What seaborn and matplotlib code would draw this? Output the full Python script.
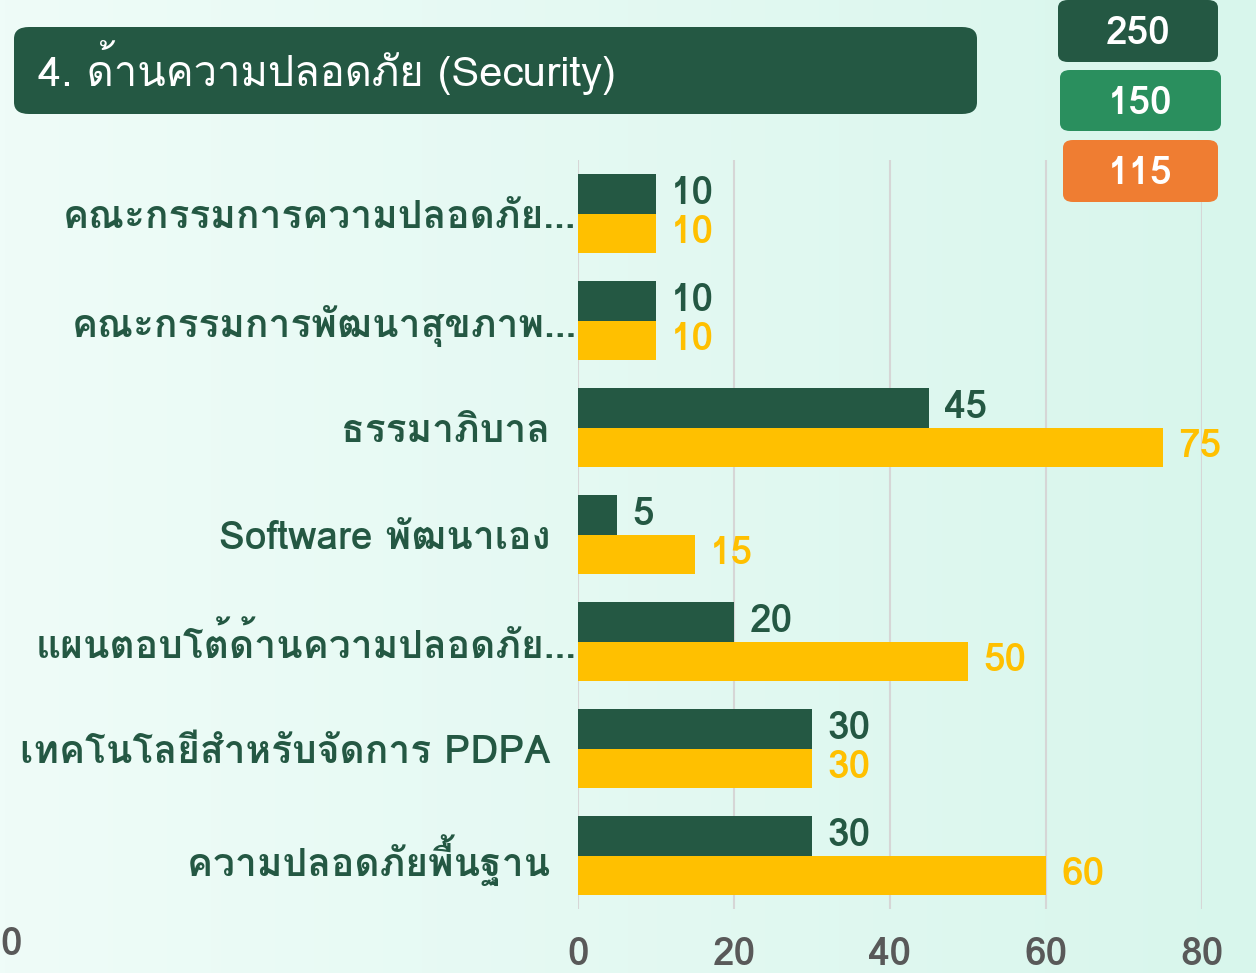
import numpy as np
import pandas as pd
import matplotlib
matplotlib.use('Agg')
import matplotlib.pyplot as plt
from matplotlib import font_manager
from matplotlib.patches import FancyBboxPatch
import seaborn as sns

# ==================== data ====================
categories = [
    'คณะกรรมการความปลอดภัย...',
    'คณะกรรมการพัฒนาสุขภาพ...',
    'ธรรมาภิบาล',
    'Software พัฒนาเอง',
    'แผนตอบโต้ด้านความปลอดภัย...',
    'เทคโนโลยีสำหรับจัดการ PDPA',
    'ความปลอดภัยพื้นฐาน',
]
series_names = ['ชุดที่ 1', 'ชุดที่ 2']
values_dark = [10, 10, 45, 5, 20, 30, 30]
values_yellow = [10, 10, 75, 15, 50, 30, 60]
x_ticks = [0, 20, 40, 60, 80]

title = '4. ด้านความปลอดภัย (Security)'
badge_values = ['250', '150', '115']

DARK = '#245843'
YELLOW = '#ffc000'
badge_colors = [DARK, '#2a8f5e', '#ef7d32']


# ==================== fonts ====================
def find_thai_fonts():
    """installed fonts carrying Thai glyphs -> {family: max weight}"""
    try:
        from fontTools.ttLib import TTFont
    except Exception:
        return {}
    found = {}
    for f in font_manager.fontManager.ttflist:
        try:
            cmap = TTFont(f.fname, fontNumber=0, lazy=True).getBestCmap()
            if cmap and 0x0E01 in cmap:
                w = f.weight if isinstance(f.weight, int) else 400
                found[f.name] = max(found.get(f.name, 0), w)
        except Exception:
            pass
    return found


sns.set_theme(style='white')
thai_fonts = find_thai_fonts()
thai = None
if thai_fonts:
    # prefer a family that also has a bold face
    thai = sorted(thai_fonts.items(), key=lambda kv: (kv[1] < 600, 'Noto' not in kv[0]))[0][0]
families = ([thai] if thai else []) + ['Noto Sans', 'DejaVu Sans']
plt.rcParams['font.family'] = families

df = pd.DataFrame({
    'category': categories * 2,
    'series': [series_names[0]] * len(categories) + [series_names[1]] * len(categories),
    'value': values_dark + values_yellow,
})

# ==================== figure ====================
fig = plt.figure(figsize=(12.56, 9.73), dpi=100)

# background gradient
bg = fig.add_axes([0, 0, 1, 1], zorder=-10)
grad = np.linspace(0, 1, 256).reshape(1, -1)
cmap_bg = matplotlib.colors.LinearSegmentedColormap.from_list('bg', ['#effcf8', '#d8f6ec'])
bg.imshow(grad, aspect='auto', cmap=cmap_bg, extent=[0, 1, 0, 1])
bg.set_xlim(0, 1)
bg.set_ylim(0, 1)
bg.axis('off')

ax = fig.add_axes([578 / 1256, 1 - 909 / 973, 624 / 1256, 749 / 973])
ax.set_facecolor('none')
sns.barplot(data=df, x='value', y='category', hue='series', orient='h',
            palette=[DARK, YELLOW], saturation=1, width=0.73, linewidth=0,
            legend=False, ax=ax)

ax.set_xlim(0, 80)
ax.set_xticks(x_ticks)
ax.set_xticklabels([str(t) for t in x_ticks], fontsize=28, fontweight='bold', color='#595959')
ax.tick_params(axis='x', length=0, pad=20)

labels = [c if c.endswith('...') else c + '  ' for c in categories]
ax.set_yticks(range(len(categories)))
ax.set_yticklabels(labels, fontsize=28, fontweight='bold', color=DARK)
ax.tick_params(axis='y', length=0, pad=1)

ax.set_xlabel('')
ax.set_ylabel('')
ax.grid(axis='x', color='#d6d6d6', linewidth=1.5)
ax.grid(axis='y', visible=False)
ax.set_axisbelow(True)
for s in ax.spines.values():
    s.set_visible(False)

for cont, col in zip(ax.containers, [DARK, YELLOW]):
    ax.bar_label(cont, padding=11, fontsize=28, fontweight='bold', color=col)

# title box
fig.patches.append(FancyBboxPatch((14 / 1256, 1 - 114 / 973), 963 / 1256, 87 / 973,
                                  boxstyle='round,pad=0,rounding_size=0.012',
                                  transform=fig.transFigure, facecolor=DARK,
                                  edgecolor='none', zorder=1))
fig.text(38 / 1256, 1 - 68 / 973, title, fontsize=30, color='white',
         ha='left', va='center', zorder=2)

# badges on the top right
boxes = [(1058, 0, 160, 62), (1060, 70, 161, 61), (1063, 140, 155, 62)]
for (bx, by, bw, bh), txt, col in zip(boxes, badge_values, badge_colors):
    fig.patches.append(FancyBboxPatch((bx / 1256, 1 - (by + bh) / 973), bw / 1256, bh / 973,
                                      boxstyle='round,pad=0,rounding_size=0.008',
                                      transform=fig.transFigure, facecolor=col,
                                      edgecolor='none', zorder=1))
    fig.text((bx + bw / 2) / 1256, 1 - (by + bh / 2 + 3) / 973, txt, fontsize=28,
             fontweight='bold', color='white', ha='center', va='center', zorder=2)

# stray tick label at the left edge
fig.text(0.0, 1 - 945 / 973, '0', fontsize=28, fontweight='bold', color='#595959',
         ha='left', va='center')

fig.savefig('out.png', dpi=100)
